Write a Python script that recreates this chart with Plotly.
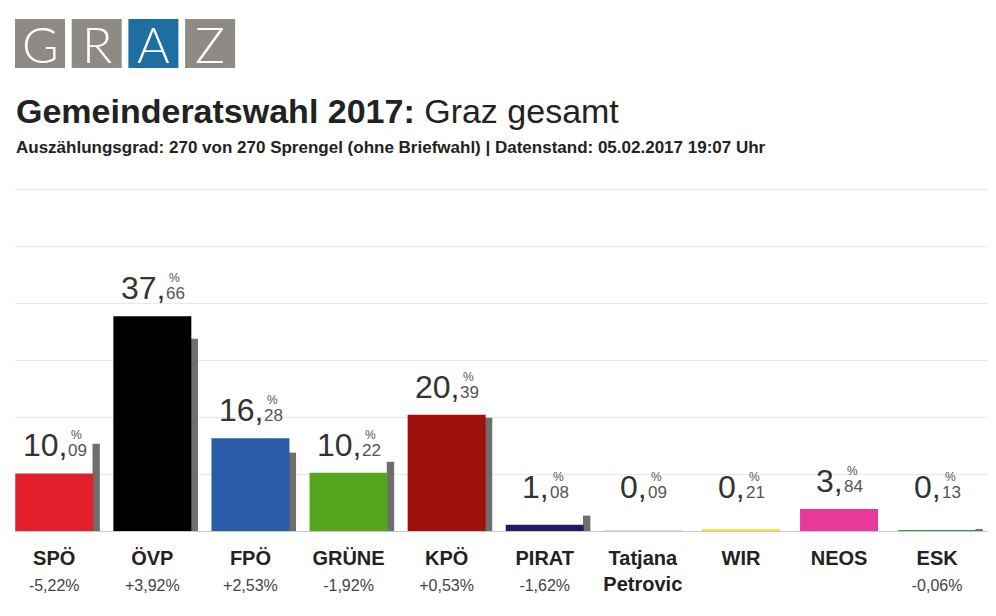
import plotly.graph_objects as go

# Gemeinderatswahl Graz 2017 - Ergebnis gesamt
parteien = ["SPÖ", "ÖVP", "FPÖ", "GRÜNE", "KPÖ", "PIRAT", "Tatjana Petrovic", "WIR", "NEOS", "ESK"]
prozent_2017 = [10.09, 37.66, 16.28, 10.22, 20.39, 1.08, 0.09, 0.21, 3.84, 0.13]
prozent_2012 = [15.31, 33.74, 13.75, 12.14, 19.86, 2.70, None, None, None, 0.19]
veraenderung = ["-5,22%", "+3,92%", "+2,53%", "-1,92%", "+0,53%", "-1,62%", "", "", "", "-0,06%"]
farben = ["#e31e2d", "#000000", "#2a5ca8", "#55a51f", "#a0100c",
          "#2b1760", "#dddddd", "#f2ea2c", "#e8399a", "#3b9b3b"]
logo = ["G", "R", "A", "Z"]

# the page body has an 8px margin, so the figure is 8px smaller
W, H = 988, 608
L, R, T, B = 7, 0, 170, 85
pw, ph = W - L - R, H - T - B
ytop = ph / 5.7  # 57px per 10 %
FONT = "Liberation Sans"


def px(x):  # screen pixel -> paper x
    return (x - 8 - L) / pw


def py(y):  # screen pixel -> paper y
    return (H - B - (y - 8)) / ph


fig = go.Figure()

# Vergleichsbalken 2012 (grau, rechts neben dem Balken)
fig.add_trace(go.Bar(x=parteien, y=prozent_2012, width=0.075, offset=0.39,
                     marker=dict(color="#6e6e6e", line_width=0), hoverinfo="skip"))
fig.add_trace(go.Bar(x=parteien, y=prozent_2017, width=0.795, offset=-0.3975,
                     marker=dict(color=farben, line_width=0)))

# Werte ueber den Balken: "37," gross, "%" ueber "66" klein
big, small, pct = 32, 17, 12
ys = 9
for p, v in zip(parteien, prozent_2017):
    ganz, dez = f"{v:.2f}".split(".")
    bw = (len(ganz) * 0.556 + 0.278) * big
    sw = 1.112 * small
    join = -(bw + sw) / 2 + bw
    yy = max(v, 2.8)
    fig.add_annotation(x=p, y=yy, text=ganz + ",", showarrow=False, borderpad=0,
                       xanchor="right", yanchor="bottom", xshift=join + 1, yshift=ys,
                       font=dict(family=FONT, size=big, color="#333333"))
    fig.add_annotation(x=p, y=yy, text=dez, showarrow=False, borderpad=0,
                       xanchor="left", yanchor="bottom", xshift=join, yshift=ys + 3,
                       font=dict(family=FONT, size=small, color="#555555"))
    fig.add_annotation(x=p, y=yy, text="%", showarrow=False, borderpad=0,
                       xanchor="center", yanchor="bottom", xshift=join + sw / 2, yshift=ys + 21,
                       font=dict(family=FONT, size=pct, color="#555555"))

ticktext = []
for p, d in zip(parteien, veraenderung):
    t = "<b>" + p.replace(" ", "<br>") + "</b>"
    if d:
        t += "<br><span style='font-size:16px;color:#444444'>" + d + "</span>"
    ticktext.append(t)

# Logo
shapes = []
for i, b in enumerate(logo):
    x0 = 15 + i * 56.7
    shapes.append(dict(type="rect", xref="paper", yref="paper", x0=px(x0), x1=px(x0 + 50),
                       y0=py(68), y1=py(19), line_width=0,
                       fillcolor="#1f6ea1" if b == "A" else "#8e8b84"))
    fig.add_annotation(xref="paper", yref="paper", x=px(x0 + 25), y=py(44), text=b,
                       showarrow=False, xanchor="center", yanchor="middle",
                       font=dict(family="Lato", size=50, color="white", weight=300))

fig.add_annotation(xref="paper", yref="paper", x=px(14), y=py(132), xanchor="left", yanchor="bottom",
                   text="<b>Gemeinderatswahl 2017:</b> Graz gesamt", showarrow=False,
                   font=dict(family=FONT, size=34, color="#222222"))
fig.add_annotation(xref="paper", yref="paper", x=px(14), y=py(159), xanchor="left", yanchor="bottom",
                   text="<b>Auszählungsgrad: 270 von 270 Sprengel (ohne Briefwahl) | Datenstand: 05.02.2017 19:07 Uhr</b>",
                   showarrow=False, font=dict(family=FONT, size=17, color="#222222"))

fig.update_layout(
    width=W, height=H, autosize=False,
    margin=dict(l=L, r=R, t=T, b=B),
    plot_bgcolor="white", paper_bgcolor="white",
    barmode="overlay", showlegend=False, shapes=shapes,
    xaxis=dict(type="category", range=[-0.4, 9.6], tickvals=parteien, ticktext=ticktext,
               showgrid=False, showline=False, ticks="", ticklabelstandoff=13,
               tickfont=dict(family=FONT, size=20, color="#222222")),
    yaxis=dict(range=[0, ytop], dtick=10, showticklabels=False, gridcolor="#e9e9e9",
               zeroline=True, zerolinecolor="#c8c8c8", zerolinewidth=1),
)

fig.write_html("out.html")
